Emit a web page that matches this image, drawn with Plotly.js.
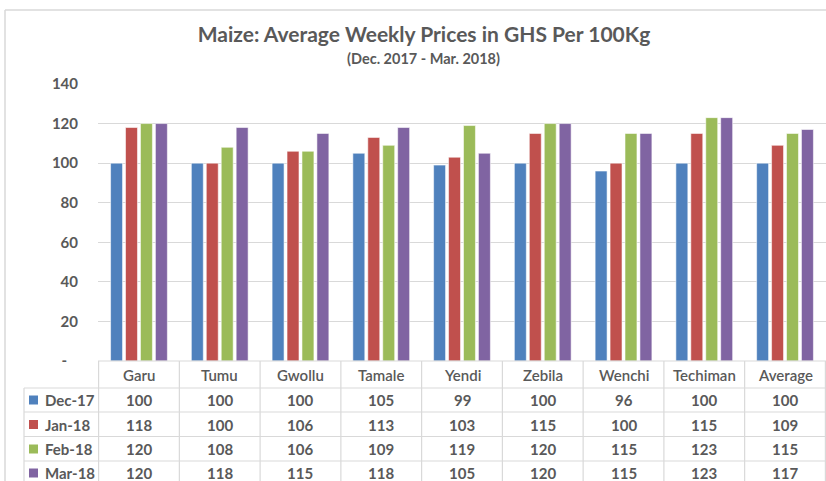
<!DOCTYPE html>
<html>
<head>
<meta charset="utf-8">
<script src="https://cdn.plot.ly/plotly-3.0.1.min.js"></script>
<style>html,body{margin:0;padding:0;background:#fff;}#chart{width:826px;height:481px;}</style>
</head>
<body>
<div id="chart"></div>
<script>
const categories = ['Garu','Tumu','Gwollu','Tamale','Yendi','Zebila','Wenchi','Techiman','Average'];
const seriesNames = ['Dec-17','Jan-18','Feb-18','Mar-18'];
const dec17 = [100,100,100,105,99,100,96,100,100];
const jan18 = [118,100,106,113,103,115,100,115,109];
const feb18 = [120,108,106,109,119,120,115,123,115];
const mar18 = [120,118,115,118,105,120,115,123,117];
const yTickVals = [0,20,40,60,80,100,120,140];
const yTickText = ['-\u00a0\u00a0\u00a0','20','40','60','80','100','120','140'];
const titleText = 'Maize: Average Weekly Prices in GHS Per 100Kg';
const subtitleText = '(Dec. 2017 - Mar. 2018)';

const seriesValues = [dec17, jan18, feb18, mar18];
const colors = ['#4F81BD','#C0504D','#9BBB59','#8064A2'];

const W = 826, H = 481, L = 98, T = 84, B = 361;
const plotW = W - L, plotH = B - T;
const px = x => (x - L) / plotW;
const py = y => (B - y) / plotH;
const gridCol = '#D9D9D9';
const textCol = '#595959';
const FONT = 'Lato, "Open Sans", sans-serif';

const traces = seriesValues.map((vals, s) => ({
  type: 'bar',
  name: seriesNames[s],
  x: categories,
  y: vals,
  marker: {color: colors[s], line: {color: 'rgba(255,255,255,0.55)', width: 1}},
  hoverinfo: 'x+y+name'
}));

const shapes = [];
const annotations = [];
// outer frame
shapes.push({type:'line', xref:'paper', yref:'paper', x0:px(5), x1:px(5), y0:py(10), y1:py(490), line:{color:gridCol, width:1.5}});
shapes.push({type:'line', xref:'paper', yref:'paper', x0:px(5), x1:px(840), y0:py(10), y1:py(10), line:{color:gridCol, width:1.5}});

// table: header top line
shapes.push({type:'line', xref:'paper', yref:'paper', x0:0, x1:1.02, y0:0, y1:0, line:{color:gridCol, width:1.2}});
// vertical separators at category boundaries
for (let k = 0; k <= categories.length; k++) {
  shapes.push({type:'line', xref:'x', yref:'paper', x0:k-0.5, x1:k-0.5, y0:0, y1:py(490), line:{color:gridCol, width:1.2}});
}
// left column vertical
shapes.push({type:'line', xref:'paper', yref:'paper', x0:px(24), x1:px(24), y0:py(388), y1:py(490), line:{color:gridCol, width:1.2}});
// row lines
const rowLines = [388, 412, 436.5, 461];
rowLines.forEach(yy => shapes.push({type:'line', xref:'paper', yref:'paper', x0:px(24), x1:1.02, y0:py(yy), y1:py(yy), line:{color:gridCol, width:1.2}}));

// header labels
categories.forEach(c => annotations.push({x:c, xref:'x', y:py(375), yref:'paper', text:c, showarrow:false,
  font:{family:FONT, size:15, color:textCol, weight:600}, xanchor:'center', yanchor:'middle'}));

const rowCenters = [400, 424.5, 449, 473];
seriesValues.forEach((vals, s) => {
  const yc = rowCenters[s];
  shapes.push({type:'rect', xref:'paper', yref:'paper', x0:px(29), x1:px(38), y0:py(yc-4.5), y1:py(yc+4.5), fillcolor:colors[s], line:{width:0}});
  annotations.push({x:px(43), xref:'paper', y:py(yc), yref:'paper', text:seriesNames[s], showarrow:false,
    font:{family:FONT, size:15, color:textCol, weight:700}, xanchor:'left', yanchor:'middle'});
  vals.forEach((v, i) => annotations.push({x:categories[i], xref:'x', y:py(yc), yref:'paper', text:String(v), showarrow:false,
    font:{family:FONT, size:15, color:textCol, weight:700}, xanchor:'center', yanchor:'middle'}));
});

// subtitle
annotations.push({x:px(423), xref:'paper', y:py(58), yref:'paper', text:subtitleText, showarrow:false,
  font:{family:FONT, size:14.5, color:textCol, weight:700}, xanchor:'center', yanchor:'middle'});

const layout = {
  width: W, height: H,
  margin: {l: L, r: 0, t: T, b: H - B, pad: 0},
  paper_bgcolor: '#fff', plot_bgcolor: '#fff',
  title: {text: titleText, x: 424 / W, xanchor: 'center', xref: 'container', y: 1 - 35 / H, yref: 'container', yanchor: 'middle',
    font: {family: FONT, size: 21, color: textCol, weight: 700}},
  showlegend: false,
  barmode: 'group', bargap: 0.26, bargroupgap: 0.2,
  xaxis: {type: 'category', showticklabels: false, showgrid: false, zeroline: false, showline: false, ticks: '', fixedrange: true},
  yaxis: {range: [0, 140], tickvals: yTickVals, ticktext: yTickText, showgrid: true, gridcolor: gridCol, gridwidth: 1.2,
    zeroline: false, showline: false, ticks: '', ticklabelstandoff: 19,
    tickfont: {family: FONT, size: 15, color: textCol, weight: 700}, fixedrange: true},
  shapes: shapes,
  annotations: annotations
};

Plotly.newPlot('chart', traces, layout, {displayModeBar: false, staticPlot: true});
</script>
</body>
</html>
